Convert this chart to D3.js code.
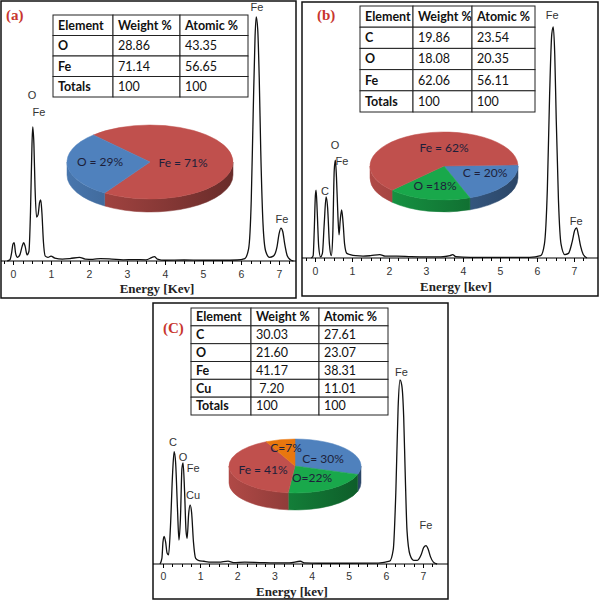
<!DOCTYPE html>
<html lang="en">
<head>
<meta charset="utf-8">
<title>EDS spectra</title>
<script src="https://cdn.jsdelivr.net/npm/d3@7"></script>
<style>
    body { margin: 0; background: #fff; }
    .axis line, .axis path { stroke: #000; shape-rendering: crispEdges; }
    .axis text { font-family: "Liberation Sans", Arial, sans-serif; font-size: 10.5px; fill: #333; }
    .tbl text { font-family: Lato, "Open Sans", sans-serif; font-size: 12.5px; fill: #111; }
    .peak { font-family: "Liberation Sans", Arial, sans-serif; font-size: 11px; fill: #333; }
    .xlab { font-family: "Liberation Serif", "DejaVu Serif", serif; font-size: 13px; font-weight: bold; fill: #222; }
    .tag { font-family: "Liberation Serif", "DejaVu Serif", serif; font-size: 15px; font-weight: bold; fill: #c8362e; }
    .plab { font-family: Lato, "Open Sans", sans-serif; font-size: 12px; fill: #1d1f3a; }
</style>
</head>
<body>
<div id="chart"></div>

<script type="text/javascript">

// ---- data ----
var ticksKev = [0, 1, 2, 3, 4, 5, 6, 7];
var header = ["Element", "Weight %", "Atomic %"];

var elemA = ["O", "Fe", "Totals"];
var wtA = ["28.86", "71.14", "100"];
var atA = ["43.35", "56.65", "100"];

var elemB = ["C", "O", "Fe", "Totals"];
var wtB = ["19.86", "18.08", "62.06", "100"];
var atB = ["23.54", "20.35", "56.11", "100"];

var elemC = ["C", "O", "Fe", "Cu", "Totals"];
var wtC = ["30.03", "21.60", "41.17", " 7.20", "100"];
var atC = ["27.61", "23.07", "38.31", "11.01", "100"];

// pie slices (weight %), in drawing order
var pieElA = ["Fe", "O"];
var pieValA = [71.14, 28.86];
var pieLabA = ["Fe = 71%", "O = 29%"];

var pieElB = ["C", "O", "Fe"];
var pieValB = [19.86, 18.08, 62.06];
var pieLabB = ["C = 20%", "O =18%", "Fe = 62%"];

var pieElC = ["C", "O", "Fe", "Cu"];
var pieValC = [30.03, 21.60, 41.17, 7.20];
var pieLabC = ["C= 30%", "O=22%", "Fe = 41%", "C=7%"];

// spectra: [energy keV, counts as % of the Fe K-alpha peak]
var specA = [[-0.15,0],[-0.08,0.5],[-0.04,3],[0.0,7],[0.03,7.5],[0.07,3],[0.12,1.5],[0.18,2.5],[0.24,6],
    [0.28,7.5],[0.32,6],[0.37,2.5],[0.42,4],[0.46,20],[0.5,48],[0.52,55],[0.55,48],[0.58,30],[0.62,18],
    [0.66,19],[0.7,24],[0.73,25],[0.76,20],[0.8,8],[0.85,2],[0.92,1.5],[1.0,2],[1.1,1.2],[1.3,0.8],
    [1.5,1],[1.75,1.5],[1.9,0.8],[2.1,0.7],[2.3,1],[2.6,0.8],[2.9,0.5],[3.2,0.6],[3.5,0.5],[3.65,1.4],
    [3.72,1.8],[3.8,0.8],[4.0,0.3],[4.5,0.4],[5.0,0.3],[5.5,0.3],[5.9,0.4],[6.1,1],[6.2,5],[6.27,25],
    [6.32,60],[6.37,92],[6.4,100],[6.44,95],[6.48,75],[6.52,45],[6.58,15],[6.65,4],[6.75,1.5],[6.85,2],
    [6.95,6],[7.0,11],[7.05,13.5],[7.1,12],[7.15,7],[7.22,2],[7.3,0.5],[7.38,0]];

var specB = [[-0.1,0],[-0.05,1],[-0.02,12],[0.01,27],[0.03,29.4],[0.06,20],[0.1,5],[0.15,0.5],[0.2,2],
    [0.25,15],[0.3,26.4],[0.34,22],[0.39,6],[0.44,1],[0.48,10],[0.52,38],[0.55,42.4],[0.58,35],[0.62,18],
    [0.65,10],[0.68,16],[0.72,20.8],[0.76,15],[0.8,6],[0.86,2],[0.95,1.5],[1.1,1],[1.3,0.8],[1.5,1],
    [1.75,1.5],[1.9,0.8],[2.2,0.8],[2.6,0.6],[3.0,0.5],[3.4,0.5],[3.65,1],[3.72,1.5],[3.8,0.6],[4.2,0.3],
    [5.0,0.3],[5.8,0.3],[6.1,1],[6.2,6],[6.28,30],[6.34,70],[6.4,97],[6.44,100],[6.48,88],[6.52,60],
    [6.58,25],[6.65,6],[6.75,1.5],[6.85,2],[6.95,7],[7.02,12],[7.07,13],[7.12,10],[7.18,5],[7.25,1.5],[7.35,0]];

var specC = [[-0.08,0],[-0.03,3],[0.0,12],[0.03,15],[0.07,12],[0.11,6],[0.15,5],[0.2,20],[0.26,50],
    [0.3,61],[0.34,55],[0.39,30],[0.43,13],[0.47,25],[0.51,52],[0.54,55],[0.58,40],[0.62,18],[0.65,14],
    [0.69,27],[0.73,32],[0.77,28],[0.82,12],[0.88,3],[0.95,2],[1.1,1.5],[1.3,1],[1.5,1],[1.75,1.6],
    [1.9,0.8],[2.2,1],[2.6,0.8],[3.0,0.6],[3.4,0.6],[3.7,1.5],[3.8,0.6],[4.2,0.4],[5.0,0.4],[5.8,0.5],
    [6.1,1.5],[6.2,8],[6.27,40],[6.33,85],[6.38,100],[6.43,97],[6.48,80],[6.52,50],[6.57,18],[6.65,5],
    [6.75,2],[6.85,2],[6.95,5],[7.02,9],[7.08,10],[7.14,8],[7.2,4],[7.28,1],[7.38,0]];

// peak labels: [text, keV, level]
var peaksA = [["O",0.5,68],["Fe",0.68,61],["Fe",6.42,104],["Fe",7.08,17]];
var peaksB = [["O",0.54,49],["Fe",0.73,42],["C",0.27,29],["Fe",6.41,105],["Fe",7.06,16]];
var peaksC = [["C",0.27,66],["O",0.54,58],["Fe",0.81,52],["Cu",0.81,37.5],["Fe",6.42,104],["Fe",7.08,21]];

var colors = { Fe: "#c0504d", O: "#4f81bd", C: "#4f81bd", Cu: "#e8770e" };
var colorsB = { Fe: "#c0504d", O: "#19a84b", C: "#4f81bd" };
var colorsC = { Fe: "#c0504d", O: "#19a84b", C: "#4f81bd", Cu: "#e8770e" };

var width = 600, height = 601;

var svg = d3.select("#chart").append("svg")
    .attr("width", width)
    .attr("height", height);
var defs = svg.append("defs");
var gradId = 0;

function drawPanel(p) {
    var g = svg.append("g");

    g.append("rect")
        .attr("x", p.box[0]).attr("y", p.box[1])
        .attr("width", p.box[2] - p.box[0]).attr("height", p.box[3] - p.box[1])
        .attr("fill", "#fff").attr("stroke", "#111").attr("stroke-width", 1.5);

    var x = d3.scaleLinear().domain([0, 7]).range([p.x0, p.x7]);
    var y = d3.scaleLinear().domain([0, 100]).range([p.base, p.top]);

    // axis line across the whole panel
    g.append("line")
        .attr("x1", p.box[0]).attr("x2", p.box[2])
        .attr("y1", p.base).attr("y2", p.base)
        .attr("stroke", "#000").attr("stroke-width", 1.2);

    var minor = d3.range(-0.25, 7.4, 0.25).filter(function(v) { return x(v) > p.box[0] + 2 && x(v) < p.box[2] - 2; });
    g.append("g").attr("class", "axis")
        .attr("transform", "translate(0," + p.base + ")")
        .call(d3.axisBottom(x).tickValues(minor).tickSize(3).tickFormat(""))
        .select(".domain").remove();

    g.append("g").attr("class", "axis")
        .attr("transform", "translate(0," + p.base + ")")
        .call(d3.axisBottom(x).tickValues(ticksKev).tickSize(4).tickPadding(p.pad).tickFormat(d3.format("d")))
        .select(".domain").remove();

    g.append("text").attr("class", "xlab")
        .attr("x", p.xlab[0]).attr("y", p.xlab[1])
        .attr("text-anchor", "middle")
        .text(p.xtitle);

    // spectrum
    var line = d3.line()
        .x(function(d) { return x(d[0]); })
        .y(function(d) { return y(d[1]); })
        .curve(d3.curveMonotoneX);
    g.append("path")
        .datum(p.spec)
        .attr("d", line)
        .attr("fill", "none")
        .attr("stroke", "#111")
        .attr("stroke-width", 1.3)
        .attr("stroke-linejoin", "round");

    g.selectAll(".peak")
        .data(p.peaks)
        .enter().append("text")
        .attr("class", "peak")
        .attr("x", function(d) { return x(d[1]); })
        .attr("y", function(d) { return y(d[2]); })
        .attr("text-anchor", "middle")
        .attr("dy", "0.35em")
        .text(function(d) { return d[0]; });

    g.append("text").attr("class", "tag")
        .attr("x", p.tag[0]).attr("y", p.tag[1])
        .text(p.tagText);

    drawTable(g, p);
    pie3d(g, p);
}

function drawTable(g, p) {
    var rows = [header].concat(p.elem.map(function(e, i) { return [e, p.wt[i], p.at[i]]; }));
    var ry = d3.scaleBand().domain(d3.range(rows.length)).range([p.tbl.y0, p.tbl.y1]);
    var cx = p.tbl.cols;
    var t = g.append("g").attr("class", "tbl");

    rows.forEach(function(r, i) {
        r.forEach(function(cell, j) {
            t.append("rect")
                .attr("x", cx[j]).attr("y", ry(i))
                .attr("width", cx[j + 1] - cx[j]).attr("height", ry.bandwidth())
                .attr("fill", "#fff").attr("stroke", "#222").attr("stroke-width", 1);
            t.append("text")
                .attr("x", cx[j] + 5)
                .attr("y", ry(i) + ry.bandwidth() / 2)
                .attr("dy", "0.35em")
                .attr("font-weight", (i === 0 || j === 0) ? "bold" : "normal")
                .style("white-space", "pre")
                .text(cell);
        });
    });
}

function pie3d(g, p) {
    var o = p.pie;
    var arcs = d3.pie().sort(null).value(function(d) { return d; })
        .startAngle(o.start).endAngle(o.start + 2 * Math.PI)(p.pieVal);

    function pt(a, dz) {
        return [o.cx + o.rx * Math.sin(a), o.cy - o.ry * Math.cos(a) + (dz || 0)];
    }

    var pg = g.append("g");

    // side walls (front half only)
    arcs.forEach(function(a, i) {
        var col = d3.color(p.pieCol[p.pieEl[i]]);
        var id = "wall" + (gradId++);
        var gr = defs.append("linearGradient").attr("id", id)
            .attr("gradientUnits", "userSpaceOnUse")
            .attr("x1", o.cx - o.rx).attr("x2", o.cx + o.rx)
            .attr("y1", 0).attr("y2", 0);
        gr.append("stop").attr("offset", "0").attr("stop-color", col.darker(0.25));
        gr.append("stop").attr("offset", "1").attr("stop-color", col.darker(1.7));

        [-1, 0, 1].forEach(function(k) {
            var s = Math.max(a.startAngle, Math.PI / 2 + 2 * Math.PI * k);
            var e = Math.min(a.endAngle, 1.5 * Math.PI + 2 * Math.PI * k);
            if (e > s) {
                var p1 = pt(s), p2 = pt(e), p3 = pt(e, o.depth), p4 = pt(s, o.depth);
                pg.append("path")
                    .attr("d", "M" + p1 + "A" + o.rx + "," + o.ry + " 0 0 1 " + p2 +
                        "L" + p3 + "A" + o.rx + "," + o.ry + " 0 0 0 " + p4 + "Z")
                    .attr("fill", "url(#" + id + ")")
                    .attr("stroke", "url(#" + id + ")").attr("stroke-width", 0.5);
            }
        });
    });

    // top faces
    arcs.forEach(function(a, i) {
        var col = p.pieCol[p.pieEl[i]];
        var large = (a.endAngle - a.startAngle) > Math.PI ? 1 : 0;
        pg.append("path")
            .attr("d", "M" + o.cx + "," + o.cy + "L" + pt(a.startAngle) +
                "A" + o.rx + "," + o.ry + " 0 " + large + " 1 " + pt(a.endAngle) + "Z")
            .attr("fill", col)
            .attr("stroke", col).attr("stroke-width", 0.5);
    });

    pg.selectAll(".plab")
        .data(p.pieLab)
        .enter().append("text")
        .attr("class", "plab")
        .attr("x", function(d, i) { return o.cx + o.lab[i][0]; })
        .attr("y", function(d, i) { return o.cy + o.lab[i][1]; })
        .attr("text-anchor", "middle")
        .attr("dy", "0.35em")
        .text(function(d) { return d; });
}

drawPanel({
    box: [1, 1, 296, 298], x0: 13, x7: 279, base: 261, top: 17, pad: 6,
    spec: specA, peaks: peaksA, xtitle: "Energy [Kev]", xlab: [157, 293],
    tag: [6, 20], tagText: "(a)",
    elem: elemA, wt: wtA, at: atA,
    tbl: { cols: [53, 113, 180, 248], y0: 15, y1: 97 },
    pieEl: pieElA, pieVal: pieValA, pieLab: pieLabA, pieCol: colors,
    pie: { cx: 150, cy: 162, rx: 83, ry: 37, depth: 13, start: -43 * Math.PI / 180,
        lab: [[33, 1], [-50, 0]] }
});

drawPanel({
    box: [302, 2, 598, 296], x0: 315, x7: 574, base: 258, top: 27, pad: 6,
    spec: specB, peaks: peaksB, xtitle: "Energy [kev]", xlab: [456, 291],
    tag: [317, 20], tagText: "(b)",
    elem: elemB, wt: wtB, at: atB,
    tbl: { cols: [360, 413, 472, 535], y0: 6, y1: 112 },
    pieEl: pieElB, pieVal: pieValB, pieLab: pieLabB, pieCol: colorsB,
    pie: { cx: 444, cy: 166, rx: 74, ry: 34, depth: 12, start: 88 * Math.PI / 180,
        lab: [[41, 7], [-9, 20], [0, -18]] }
});

drawPanel({
    box: [153, 303, 448, 599], x0: 163, x7: 423, base: 564, top: 380, pad: 5,
    spec: specC, peaks: peaksC, xtitle: "Energy [kev]", xlab: [292, 596],
    tag: [163, 333], tagText: "(C)",
    elem: elemC, wt: wtC, at: atC,
    tbl: { cols: [191, 251, 319, 388], y0: 308, y1: 415 },
    pieEl: pieElC, pieVal: pieValC, pieLab: pieLabC, pieCol: colorsC,
    pie: { cx: 295, cy: 466, rx: 66, ry: 27, depth: 17, start: 0,
        lab: [[28, -7], [17, 12], [-32, 4], [-9, -18]] }
});

</script>
</body>
</html>
